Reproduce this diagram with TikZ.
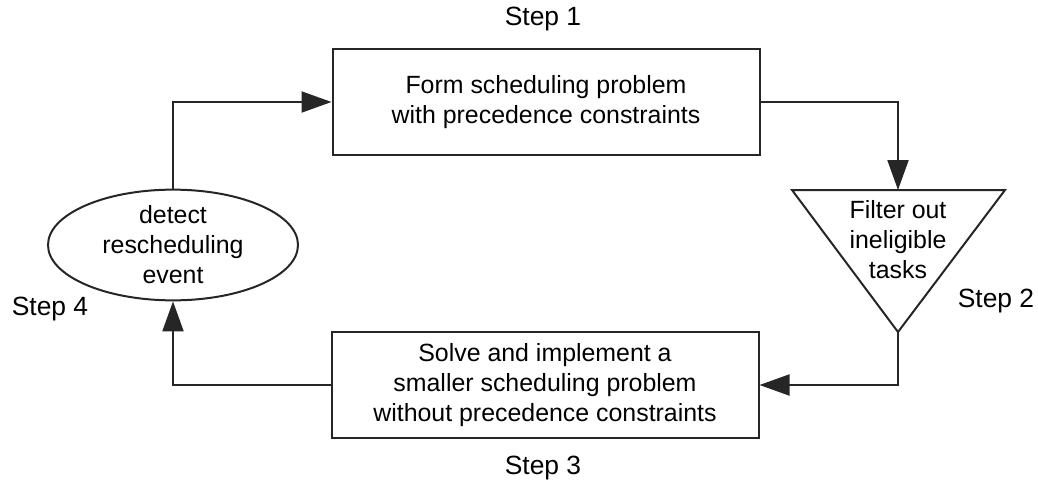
\documentclass[tikz,border=0pt]{standalone}
\usepackage{fontspec}
\setmainfont{Liberation Sans}
\usetikzlibrary{arrows.meta,shapes.geometric}
\begin{document}
\begin{tikzpicture}[x=0.5pt,y=-0.5pt,
  every node/.style={font=\fontsize{12.45}{15}\selectfont, text=black},
  line/.style={draw=black!85, line width=1pt},
  arr/.style={line, -{Triangle[length=15pt,width=10.5pt]}},
  stepbox/.style={line, rectangle, minimum width=213.5pt, minimum height=53pt, align=center, inner sep=0pt},
  eventnode/.style={line, ellipse, minimum width=125pt, minimum height=52.5pt, align=center, inner sep=0pt},
  steplabel/.style={inner sep=0pt, font=\fontsize{13.2}{15}\selectfont}]
\useasboundingbox (0,0) rectangle (1038,487);

% step boxes
\node[stepbox] (form) at (546,102) {Form scheduling problem\\with precedence constraints};
\node[stepbox] (solve) at (545,385) {Solve and implement a\\smaller scheduling problem\\without precedence constraints};

% event ellipse
\node[eventnode] (detect) at (173,245) {detect\\rescheduling\\event};

% filter triangle (pointing down)
\coordinate (tritop) at (898,190);
\coordinate (trileft) at (792,190);
\coordinate (triright) at (1005,190);
\coordinate (apex) at (898,332);
\draw[line, line join=miter] (trileft) -- (triright) -- (apex) -- cycle;
\node[align=center, inner sep=0pt] (filter) at (898,240) {Filter out\\ineligible\\tasks};

% step labels
\node[steplabel] (s1) at (543,19) {Step 1};
\node[steplabel] (s2) at (996,301) {Step 2};
\node[steplabel] (s3) at (543,468) {Step 3};
\node[steplabel] (s4) at (50,309) {Step 4};

% connectors
\draw[arr] (form.east) -| (tritop);
\draw[arr] (apex) |- (solve.east);
\draw[arr] (solve.west) -| (detect.south);
\draw[arr] (detect.north) |- (form.west);
\end{tikzpicture}
\end{document}
